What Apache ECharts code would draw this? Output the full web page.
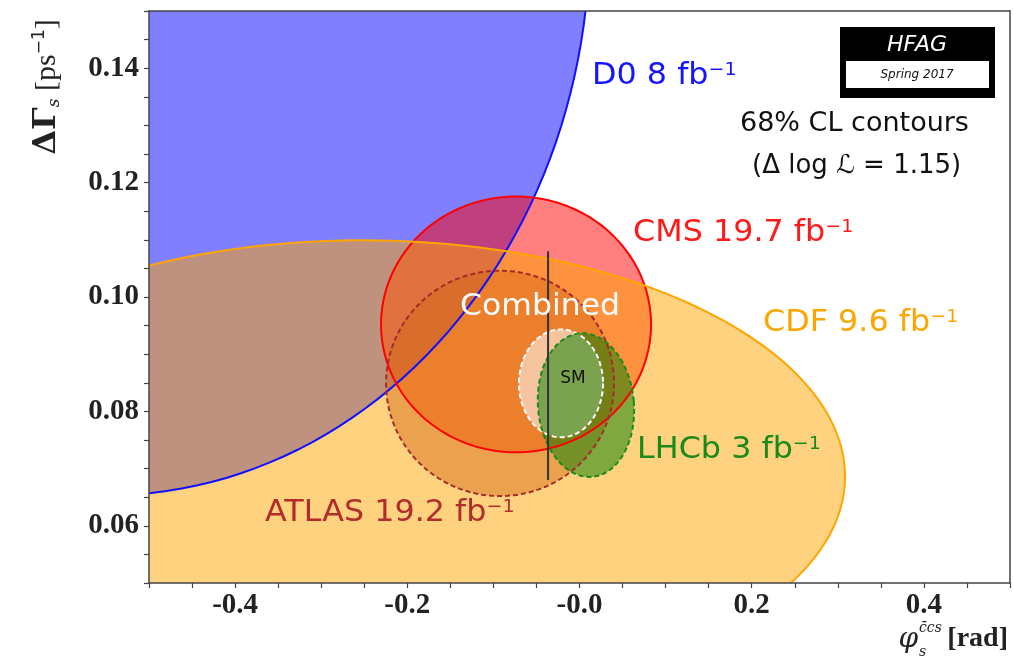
<!DOCTYPE html>
<html>
<head>
<meta charset="utf-8">
<script src="https://cdn.jsdelivr.net/npm/echarts@6/dist/echarts.min.js"></script>
<style>
  html, body { margin: 0; padding: 0; background: #fff; }
  #chart { width: 1013px; height: 660px; }
</style>
</head>
<body>
<div id="chart"></div>
<script>
// 68% CL contours: centre, half widths, tilt on screen (deg)
// listed in drawing order (CDF is painted over CMS and ATLAS)
const names = ['D0', 'CMS', 'ATLAS', 'CDF', 'Combined', 'LHCb']
const centerPhi = [-0.55, -0.0737, -0.0923, -0.2375, -0.0215, 0.0075]
const centerGamma = [0.163, 0.0952, 0.0849, 0.0697, 0.0849, 0.0811]
const halfPhi = [0.562, 0.1568, 0.1324, 0.546, 0.0488, 0.0557]
const halfGamma = [0.0977, 0.02236, 0.0197, 0.0402, 0.00943, 0.01258]
const tiltDeg = [0, 0, 0, 1, 0, -5]

// standard model point: vertical band in dGamma at fixed phi
const smPhi = [-0.0365, -0.0365]
const smGamma = [0.068, 0.108]

// styles per contour
const styles = {
  D0: { fill: 'rgba(0,0,255,0.5)', stroke: '#1010ff', dash: null },
  CDF: { fill: 'rgba(255,165,0,0.5)', stroke: '#ffa500', dash: null },
  CMS: { fill: 'rgba(255,0,0,0.5)', stroke: '#ff0000', dash: null },
  ATLAS: { fill: 'rgba(165,42,42,0.45)', stroke: '#a52a2a', dash: [5, 3] },
  Combined: { fill: 'rgba(255,255,255,0.55)', stroke: '#ffffff', dash: [5, 3] },
  LHCb: { fill: 'rgba(0,128,0,0.5)', stroke: '#1a8a1a', dash: [5, 3] }
}

const chart = echarts.init(document.getElementById('chart'))

// ellipse outline in pixels, through the axes' scales
function ellipsePoints (api, i) {
  const c = api.coord([centerPhi[i], centerGamma[i]])
  const s = api.size([halfPhi[i], halfGamma[i]])
  const a = tiltDeg[i] * Math.PI / 180
  const pts = []
  for (let k = 0; k < 200; k++) {
    const t = k / 200 * 2 * Math.PI
    const ex = s[0] * Math.cos(t)
    const ey = s[1] * Math.sin(t)
    pts.push([
      c[0] + ex * Math.cos(a) - ey * Math.sin(a),
      c[1] + ex * Math.sin(a) + ey * Math.cos(a)
    ])
  }
  return pts
}

const contourData = names.map((n, i) => [centerPhi[i], centerGamma[i], i])

function isStep (v, step) {
  const r = v / step
  return Math.abs(r - Math.round(r)) < 1e-6
}

const tickColor = '#444'
const labelFont = {
  fontFamily: 'Liberation Serif',
  fontWeight: 'bold',
  fontSize: 29,
  color: '#222'
}

// text with a superscript, like "CMS 19.7 fb^-1"
function lumiLabel (x, y, color, main, sup) {
  return {
    type: 'text',
    x: x,
    y: y,
    z: 100,
    scaleX: 1.06,
    style: {
      text: '{m|' + main + '}{s|' + sup + '}',
      fill: color,
      textVerticalAlign: 'middle',
      rich: {
        m: { fontFamily: 'DejaVu Sans', fontSize: 30, fill: color, color: color },
        s: { fontFamily: 'DejaVu Sans', fontSize: 18, fill: color, color: color, verticalAlign: 'top' }
      }
    }
  }
}

const option = {
  animation: false,
  backgroundColor: '#fff',
  grid: {
    left: 149,
    right: 3,
    top: 11,
    bottom: 77,
    outerBoundsMode: 'none',
    show: false
  },
  xAxis: [
    {
      type: 'value',
      min: -0.5,
      max: 0.5,
      interval: 0.05,
      z: 5,
      axisLine: { show: true, onZero: false, lineStyle: { color: tickColor, width: 1.5 } },
      axisTick: { show: true, length: 5, lineStyle: { color: tickColor, width: 1.2 } },
      splitLine: { show: false },
      axisLabel: Object.assign({
        margin: 8,
        hideOverlap: false,
        showMinLabel: true,
        showMaxLabel: true,
        formatter: (v) => {
          if (!isStep(v, 0.2)) return ''
          if (Math.abs(v) < 1e-9) return '-0.0'
          return v.toFixed(1)
        }
      }, labelFont)
    },
    {
      type: 'value',
      position: 'top',
      min: -0.5,
      max: 0.5,
      z: 5,
      axisLine: { show: true, onZero: false, lineStyle: { color: tickColor, width: 1.5 } },
      axisTick: { show: false },
      axisLabel: { show: false },
      splitLine: { show: false }
    }
  ],
  yAxis: [
    {
      type: 'value',
      min: 0.05,
      max: 0.15,
      interval: 0.005,
      z: 5,
      axisLine: { show: true, onZero: false, lineStyle: { color: tickColor, width: 1.5 } },
      axisTick: { show: true, length: 5, lineStyle: { color: tickColor, width: 1.2 } },
      splitLine: { show: false },
      axisLabel: Object.assign({
        margin: 10,
        hideOverlap: false,
        formatter: (v) => (isStep(v, 0.02) && v > 0.051 && v < 0.149) ? v.toFixed(2) : ''
      }, labelFont)
    },
    {
      type: 'value',
      position: 'right',
      min: 0.05,
      max: 0.15,
      z: 5,
      axisLine: { show: true, onZero: false, lineStyle: { color: tickColor, width: 1.5 } },
      axisTick: { show: false },
      axisLabel: { show: false },
      splitLine: { show: false }
    }
  ],
  series: [
    {
      // filled contours, drawn in order
      type: 'custom',
      clip: true,
      z: 2,
      data: contourData,
      renderItem: (params, api) => {
        const i = params.dataIndex
        return {
          type: 'polygon',
          shape: { points: ellipsePoints(api, i) },
          style: { fill: styles[names[i]].fill, stroke: null }
        }
      }
    },
    {
      // contour lines on top of all fills
      type: 'custom',
      clip: true,
      z: 3,
      data: contourData,
      renderItem: (params, api) => {
        const i = params.dataIndex
        const st = styles[names[i]]
        return {
          type: 'polygon',
          shape: { points: ellipsePoints(api, i) },
          style: { fill: null, stroke: st.stroke, lineWidth: 2, lineDash: st.dash }
        }
      }
    },
    {
      type: 'line',
      z: 4,
      data: [[smPhi[0], smGamma[0]], [smPhi[1], smGamma[1]]],
      symbol: 'none',
      silent: true,
      lineStyle: { color: '#333', width: 2 }
    }
  ],
  graphic: [
    lumiLabel(592, 76, '#1515ff', 'D0 8 fb', '−1'),
    lumiLabel(633, 233, '#ff1a1a', 'CMS 19.7 fb', '−1'),
    lumiLabel(763, 323, '#ffa500', 'CDF 9.6 fb', '−1'),
    lumiLabel(637, 450, '#1a8a1a', 'LHCb 3 fb', '−1'),
    lumiLabel(265, 513, '#b22c2c', 'ATLAS 19.2 fb', '−1'),
    {
      type: 'text', x: 460, y: 307, z: 100, scaleX: 1.05,
      style: { text: 'Combined', fill: '#fff', fontFamily: 'DejaVu Sans', fontSize: 30, textVerticalAlign: 'middle' }
    },
    {
      type: 'text', x: 573, y: 379, z: 100,
      style: { text: 'SM', fill: '#111', fontFamily: 'DejaVu Sans', fontSize: 17, textAlign: 'center', textVerticalAlign: 'middle' }
    },
    {
      type: 'text', x: 740, y: 124, z: 100,
      style: { text: '68% CL contours', fill: '#111', fontFamily: 'DejaVu Sans', fontSize: 27, textVerticalAlign: 'middle' }
    },
    {
      type: 'text', x: 752, y: 166, z: 100,
      style: { text: '(Δ log ℒ = 1.15)', fill: '#111', fontFamily: 'DejaVu Sans', fontSize: 26, textVerticalAlign: 'middle' }
    },
    // HFAG tag
    { type: 'rect', z: 100, shape: { x: 840, y: 27, width: 155, height: 71 }, style: { fill: '#000' } },
    { type: 'rect', z: 101, shape: { x: 846, y: 61, width: 143, height: 27 }, style: { fill: '#fff' } },
    {
      type: 'text', x: 917, y: 45, z: 102,
      style: { text: 'HFAG', fill: '#fff', fontFamily: 'DejaVu Sans', fontStyle: 'italic', fontSize: 22, textAlign: 'center', textVerticalAlign: 'middle' }
    },
    {
      type: 'text', x: 917, y: 75, z: 102,
      style: { text: 'Spring 2017', fill: '#111', fontFamily: 'DejaVu Sans', fontStyle: 'italic', fontSize: 12, textAlign: 'center', textVerticalAlign: 'middle' }
    },
    // y axis title, rotated
    {
      type: 'text', x: 47, y: 87, z: 100, rotation: Math.PI / 2,
      style: {
        text: '{g|ΔΓ}{sub|s}{u| [ps}{sup|−1}{u|]}',
        fill: '#222',
        textAlign: 'center',
        textVerticalAlign: 'middle',
        rich: {
          g: { fontFamily: 'DejaVu Serif', fontWeight: 'bold', fontSize: 32, fill: '#222' },
          sub: { fontFamily: 'DejaVu Serif', fontStyle: 'italic', fontSize: 17, fill: '#222', verticalAlign: 'bottom' },
          u: { fontFamily: 'Liberation Serif', fontSize: 30, fill: '#222' },
          sup: { fontFamily: 'DejaVu Sans', fontSize: 17, fill: '#222', verticalAlign: 'top' }
        }
      }
    },
    // x axis title
    {
      type: 'text', x: 918, y: 640, z: 100,
      style: { text: 'φ', fill: '#222', fontFamily: 'DejaVu Serif', fontStyle: 'italic', fontSize: 28, textAlign: 'right', textVerticalAlign: 'middle' }
    },
    {
      type: 'text', x: 919, y: 628, z: 100,
      style: { text: 'c̄cs', fill: '#222', fontFamily: 'DejaVu Serif', fontStyle: 'italic', fontSize: 14, textVerticalAlign: 'middle' }
    },
    {
      type: 'text', x: 919, y: 652, z: 100,
      style: { text: 's', fill: '#222', fontFamily: 'DejaVu Serif', fontStyle: 'italic', fontSize: 14, textVerticalAlign: 'middle' }
    },
    {
      type: 'text', x: 1008, y: 639, z: 100,
      style: { text: '[rad]', fill: '#222', fontFamily: 'Liberation Serif', fontWeight: 'bold', fontSize: 28, textAlign: 'right', textVerticalAlign: 'middle' }
    }
  ]
}

chart.setOption(option)
</script>
</body>
</html>
